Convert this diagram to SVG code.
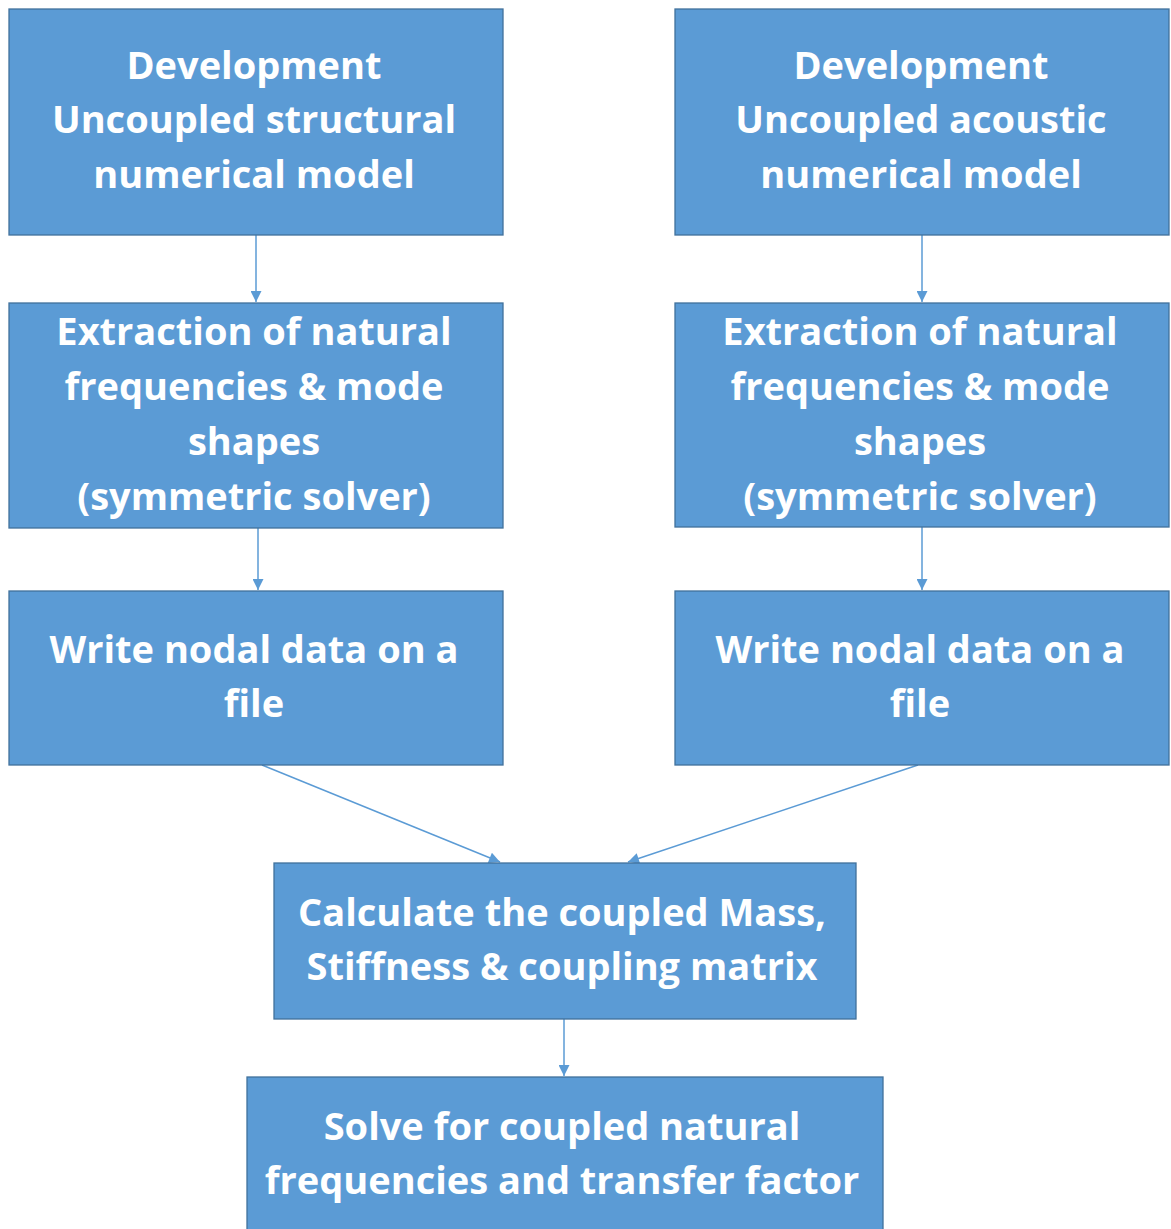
<svg xmlns="http://www.w3.org/2000/svg" width="1171" height="1229" viewBox="0 0 1171 1229">
<defs>
<style>
.box{fill:#5b9bd5;stroke:#41719c;stroke-width:1.3}
.t{font-family:"Open Sans",Lato,"Liberation Sans",sans-serif;font-weight:bold;font-size:38px;fill:#ffffff;text-anchor:middle}
.c{stroke:#5b9bd5;stroke-width:1.5;fill:none;marker-end:url(#ah)}
</style>
<marker id="ah" viewBox="0 0 10 10" refX="10" refY="5" markerWidth="12" markerHeight="11" markerUnits="userSpaceOnUse" orient="auto">
<path d="M0,0 L10,5 L0,10 z" fill="#5b9bd5"/>
</marker>
</defs>
<rect width="1171" height="1229" fill="#ffffff"/>
<g id="connectors">
<line class="c" x1="256" y1="235" x2="256" y2="302"/>
<line class="c" x1="922" y1="235" x2="922" y2="302"/>
<line class="c" x1="258" y1="528" x2="258" y2="590"/>
<line class="c" x1="922" y1="527" x2="922" y2="590"/>
<line class="c" x1="262" y1="765" x2="500" y2="862"/>
<line class="c" x1="918" y1="765" x2="628" y2="862"/>
<line class="c" x1="564" y1="1019" x2="564" y2="1076"/>
</g>
<g id="n1">
<rect class="box" x="9" y="9" width="494" height="226"/>
<text class="t" x="254" y="79">Development</text>
<text class="t" x="254" y="133">Uncoupled structural</text>
<text class="t" x="254" y="188">numerical model</text>
</g>
<g id="n2">
<rect class="box" x="675" y="9" width="494" height="226"/>
<text class="t" x="921" y="79">Development</text>
<text class="t" x="921" y="133">Uncoupled acoustic</text>
<text class="t" x="921" y="188">numerical model</text>
</g>
<g id="n3">
<rect class="box" x="9" y="303" width="494" height="225"/>
<text class="t" x="254" y="345">Extraction of natural</text>
<text class="t" x="254" y="400">frequencies &amp; mode</text>
<text class="t" x="254" y="455">shapes</text>
<text class="t" x="254" y="510">(symmetric solver)</text>
</g>
<g id="n4">
<rect class="box" x="675" y="303" width="494" height="224"/>
<text class="t" x="920" y="345">Extraction of natural</text>
<text class="t" x="920" y="400">frequencies &amp; mode</text>
<text class="t" x="920" y="455">shapes</text>
<text class="t" x="920" y="510">(symmetric solver)</text>
</g>
<g id="n5">
<rect class="box" x="9" y="591" width="494" height="174"/>
<text class="t" x="254" y="663">Write nodal data on a</text>
<text class="t" x="254" y="717">file</text>
</g>
<g id="n6">
<rect class="box" x="675" y="591" width="494" height="174"/>
<text class="t" x="920" y="663">Write nodal data on a</text>
<text class="t" x="920" y="717">file</text>
</g>
<g id="n7">
<rect class="box" x="274" y="863" width="582" height="156"/>
<text class="t" x="562" y="926">Calculate the coupled Mass,</text>
<text class="t" x="562" y="980">Stiffness &amp; coupling matrix</text>
</g>
<g id="n8">
<rect class="box" x="247" y="1077" width="636" height="160"/>
<text class="t" x="562" y="1140">Solve for coupled natural</text>
<text class="t" x="562" y="1194">frequencies and transfer factor</text>
</g>
</svg>
